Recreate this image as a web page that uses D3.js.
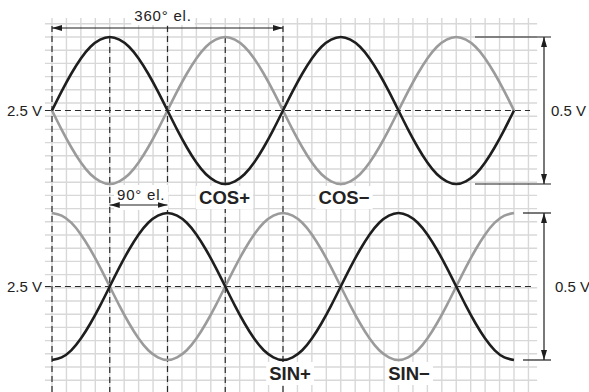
<!DOCTYPE html>
<html>
<head>
<meta charset="utf-8">
<script src="https://cdn.jsdelivr.net/npm/d3@7"></script>
<style>
  html, body { margin: 0; padding: 0; background: #fff; }
  svg { display: block; font-family: "Liberation Sans", Arial, sans-serif; }
</style>
</head>
<body>
<div id="chart"></div>
<script>
// electrical angle (deg) of each sample
const angles = [0, 15, 30, 45, 60, 75, 90, 105, 120, 135, 150, 165, 180, 195, 210, 225, 240, 255,
  270, 285, 300, 315, 330, 345, 360, 375, 390, 405, 420, 435, 450, 465, 480, 495, 510, 525,
  540, 555, 570, 585, 600, 615, 630, 645, 660, 675, 690, 705, 720];
// volts
const cosPlus = [2.5, 2.565, 2.625, 2.677, 2.717, 2.741, 2.75, 2.741, 2.717, 2.677, 2.625, 2.565,
  2.5, 2.435, 2.375, 2.323, 2.283, 2.259, 2.25, 2.259, 2.283, 2.323, 2.375, 2.435,
  2.5, 2.565, 2.625, 2.677, 2.717, 2.741, 2.75, 2.741, 2.717, 2.677, 2.625, 2.565,
  2.5, 2.435, 2.375, 2.323, 2.283, 2.259, 2.25, 2.259, 2.283, 2.323, 2.375, 2.435, 2.5];
const cosMinus = [2.5, 2.435, 2.375, 2.323, 2.283, 2.259, 2.25, 2.259, 2.283, 2.323, 2.375, 2.435,
  2.5, 2.565, 2.625, 2.677, 2.717, 2.741, 2.75, 2.741, 2.717, 2.677, 2.625, 2.565,
  2.5, 2.435, 2.375, 2.323, 2.283, 2.259, 2.25, 2.259, 2.283, 2.323, 2.375, 2.435,
  2.5, 2.565, 2.625, 2.677, 2.717, 2.741, 2.75, 2.741, 2.717, 2.677, 2.625, 2.565, 2.5];
const sinPlus = [2.25, 2.259, 2.283, 2.323, 2.375, 2.435, 2.5, 2.565, 2.625, 2.677, 2.717, 2.741,
  2.75, 2.741, 2.717, 2.677, 2.625, 2.565, 2.5, 2.435, 2.375, 2.323, 2.283, 2.259,
  2.25, 2.259, 2.283, 2.323, 2.375, 2.435, 2.5, 2.565, 2.625, 2.677, 2.717, 2.741,
  2.75, 2.741, 2.717, 2.677, 2.625, 2.565, 2.5, 2.435, 2.375, 2.323, 2.283, 2.259, 2.25];
const sinMinus = [2.75, 2.741, 2.717, 2.677, 2.625, 2.565, 2.5, 2.435, 2.375, 2.323, 2.283, 2.259,
  2.25, 2.259, 2.283, 2.323, 2.375, 2.435, 2.5, 2.565, 2.625, 2.677, 2.717, 2.741,
  2.75, 2.741, 2.717, 2.677, 2.625, 2.565, 2.5, 2.435, 2.375, 2.323, 2.283, 2.259,
  2.25, 2.259, 2.283, 2.323, 2.375, 2.435, 2.5, 2.565, 2.625, 2.677, 2.717, 2.741, 2.75];
const guideAngles = [0, 90, 180, 270, 360];
const offsetLabel = '2.5 V';
const swingLabel = '0.5 V';
const periodLabel = '360° el.';
const quarterLabel = '90° el.';

const W = 589, H = 392;
const svg = d3.select('#chart').append('svg').attr('width', W).attr('height', H);

const x = d3.scaleLinear().domain([0, 720]).range([52, 514]);
const yTop = d3.scaleLinear().domain([2.25, 2.75]).range([184, 37]);
const yBot = d3.scaleLinear().domain([2.25, 2.75]).range([360, 213]);

const ink = '#1e1e1e', grey = '#9b9b9b';

// arrow heads
const defs = svg.append('defs');
['end', 'start'].forEach(k => {
  defs.append('marker').attr('id', 'arr-' + k)
    .attr('viewBox', '0 0 10 6').attr('refX', k === 'end' ? 10 : 0).attr('refY', 3)
    .attr('markerWidth', 10).attr('markerHeight', 6).attr('markerUnits', 'userSpaceOnUse')
    .attr('orient', 'auto')
    .append('path')
    .attr('d', k === 'end' ? 'M0,0L10,3L0,6Z' : 'M10,0L0,3L10,6Z')
    .attr('fill', ink);
});

// grid
const gridStep = 22.5;              // degrees
const gridDv = 0.0449;              // volts per row on the top scale
const gx0 = -11, gx1 = 756;
const grid = svg.append('g').attr('stroke', '#d8d8d8').attr('stroke-width', 1.4);
d3.range(0, 34).forEach(i => {
  grid.append('line').attr('x1', x(i * gridStep)).attr('x2', x(i * gridStep))
    .attr('y1', 18).attr('y2', H);
});
d3.range(-1, 27).forEach(k => {
  const yy = yTop(2.75 - k * gridDv);
  grid.append('line').attr('x1', x(gx0)).attr('x2', x(gx1)).attr('y1', yy).attr('y2', yy);
});

// dashed guides
const dash = svg.append('g').attr('stroke', '#2a2a2a').attr('stroke-width', 1.2)
  .attr('stroke-dasharray', '6,4');
guideAngles.forEach(a => {
  dash.append('line').attr('x1', x(a)).attr('x2', x(a))
    .attr('y1', a % 180 === 0 ? 26 : yTop(2.75)).attr('y2', H);
});
dash.append('line').attr('x1', x(gx0)).attr('x2', x(745))
  .attr('y1', yTop(2.5)).attr('y2', yTop(2.5));
dash.append('line').attr('x1', x(gx0)).attr('x2', x(748))
  .attr('y1', yBot(2.5)).attr('y2', yBot(2.5));

// labels with white boxes
const boxes = svg.append('g');
const labels = svg.append('g');
function label(t, px, py, opts = {}) {
  const el = labels.append('text').attr('x', px).attr('y', py)
    .attr('text-anchor', opts.anchor || 'start')
    .attr('fill', opts.fill || '#222')
    .style('font-size', (opts.size || 15) + 'px')
    .style('font-weight', opts.bold ? 700 : 400)
    .style('letter-spacing', (opts.ls || 0) + 'px')
    .text(t);
  if (opts.box) {
    const b = el.node().getBBox();
    boxes.append('rect').attr('x', b.x - 3).attr('y', b.y - 1)
      .attr('width', b.width + 6).attr('height', b.height + (opts.boxExtra || 2))
      .attr('fill', '#fff');
  }
  return el;
}

label(periodLabel, 163, 21, { anchor: 'middle', ls: 0.8, box: true });
label(quarterLabel, 117, 200, { ls: 0.8, box: true, boxExtra: 8 });
label('COS+', 224.5, 204, { anchor: 'middle', bold: true, size: 18.5, box: true });
label('COS−', 344, 204, { anchor: 'middle', bold: true, size: 18.5, box: true });
label('SIN+', 290, 380, { anchor: 'middle', bold: true, size: 18.5, box: true });
label('SIN−', 409, 380, { anchor: 'middle', bold: true, size: 18.5, box: true });
label(offsetLabel, 42, yTop(2.5) + 5.4, { anchor: 'end' });
label(offsetLabel, 42, yBot(2.5) + 5.4, { anchor: 'end' });
label(swingLabel, 551, yTop(2.5) + 5.4);
label(swingLabel, 555, yBot(2.5) + 5.4);

// traces
const traces = [
  { vals: cosMinus, y: yTop, color: grey },
  { vals: cosPlus, y: yTop, color: ink },
  { vals: sinMinus, y: yBot, color: grey },
  { vals: sinPlus, y: yBot, color: ink }
];
const curves = svg.insert('g', () => labels.node());
traces.forEach(t => {
  const line = d3.line().x((d, i) => x(angles[i])).y(d => t.y(d)).curve(d3.curveNatural);
  curves.append('path').datum(t.vals).attr('d', line)
    .attr('fill', 'none').attr('stroke', t.color).attr('stroke-width', 2.6)
    .attr('stroke-linejoin', 'round');
});

// dimension lines
const dim = svg.append('g').attr('stroke', ink).attr('stroke-width', 1.2).attr('fill', 'none');
dim.append('line').attr('x1', x(0)).attr('x2', x(360)).attr('y1', 28).attr('y2', 28)
  .attr('marker-start', 'url(#arr-start)').attr('marker-end', 'url(#arr-end)');
dim.append('line').attr('x1', x(90)).attr('x2', x(180)).attr('y1', 205).attr('y2', 205)
  .attr('marker-start', 'url(#arr-start)').attr('marker-end', 'url(#arr-end)');
[[yTop, 475], [yBot, 523]].forEach(([ys, x0]) => {
  dim.append('line').attr('x1', x0).attr('x2', 551).attr('y1', ys(2.75)).attr('y2', ys(2.75));
  dim.append('line').attr('x1', x0).attr('x2', 551).attr('y1', ys(2.25)).attr('y2', ys(2.25));
  dim.append('line').attr('x1', 544).attr('x2', 544).attr('y1', ys(2.75)).attr('y2', ys(2.25))
    .attr('marker-start', 'url(#arr-start)').attr('marker-end', 'url(#arr-end)');
});
</script>
</body>
</html>
